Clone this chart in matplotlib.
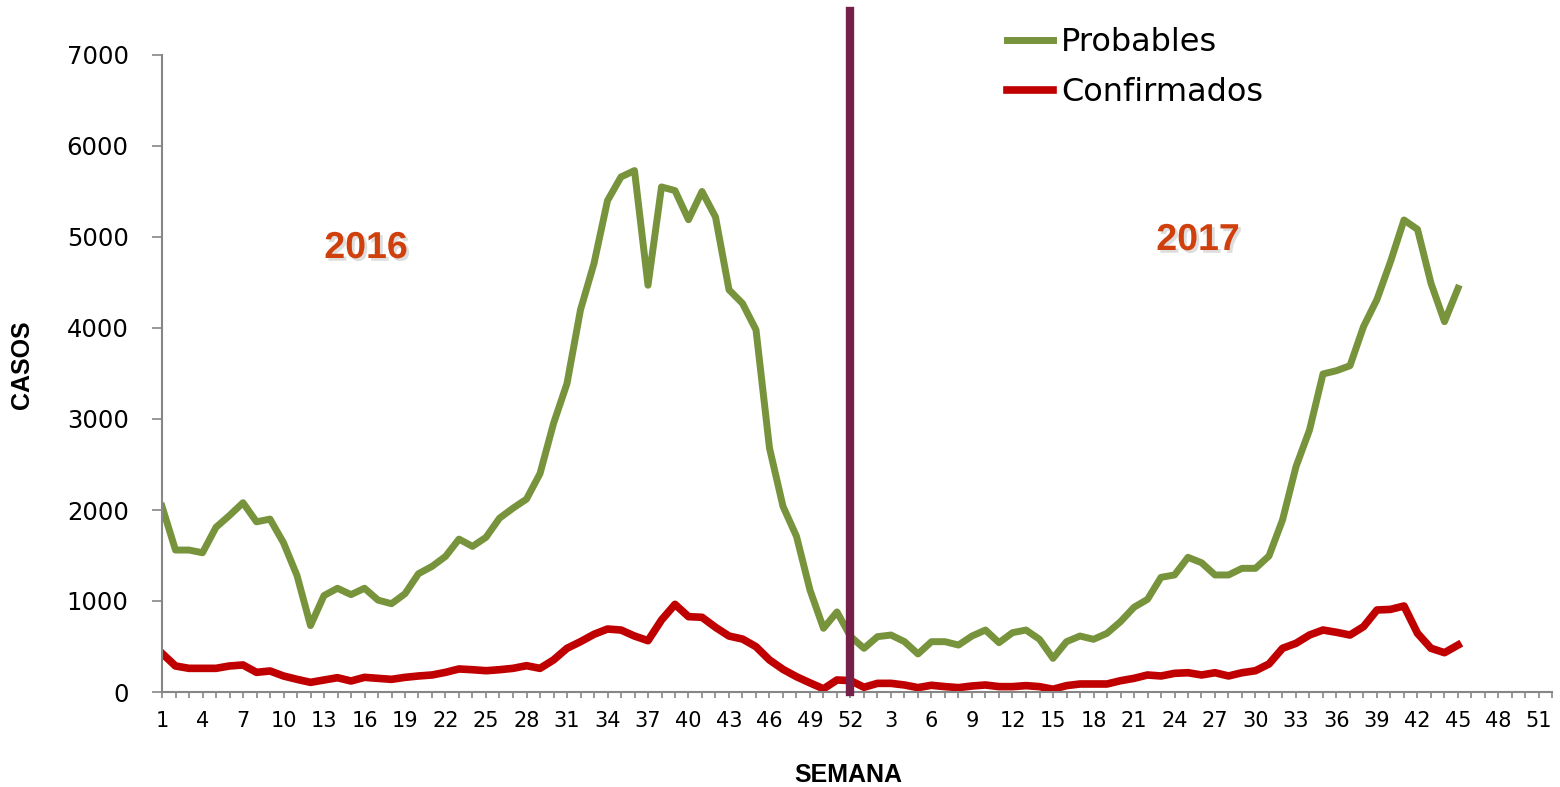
import matplotlib
matplotlib.use('Agg')
from matplotlib import pyplot as plt
import matplotlib.patheffects as pe

# semanas epidemiologicas
semanas_2016 = list(range(1, 53))
semanas_2017 = list(range(1, 53))

probables_2016 = [2040, 1560, 1560, 1530, 1810, 1940, 2080, 1870, 1900, 1640,
                  1280, 730, 1060, 1140, 1070, 1140, 1010, 970, 1080, 1300,
                  1380, 1490, 1680, 1600, 1700, 1910, 2020, 2120, 2400, 2950,
                  3390, 4200, 4710, 5400, 5660, 5730, 4470, 5550, 5510, 5190,
                  5500, 5220, 4420, 4270, 3980, 2680, 2040, 1710, 1120, 700,
                  880, 610]
probables_2017 = [480, 608, 626, 553, 418, 553, 553, 516, 615, 681,
                  542, 652, 681, 579, 370, 553, 615, 579, 645, 773,
                  931, 1018, 1260, 1286, 1480, 1421, 1286, 1286, 1359, 1359,
                  1495, 1890, 2476, 2879, 3495, 3531, 3586, 4015, 4315, 4729,
                  5187, 5084, 4491, 4070, 4436]

confirmados_2016 = [425, 286, 260, 260, 260, 286, 297, 216, 231, 176,
                    139, 106, 132, 157, 121, 161, 150, 139, 161, 176,
                    187, 216, 253, 245, 234, 245, 260, 289, 260, 352,
                    480, 553, 634, 692, 681, 615, 564, 791, 963, 828,
                    821, 711, 615, 582, 498, 352, 249, 168, 100, 35,
                    132, 125]
confirmados_2017 = [52, 95, 95, 77, 48, 74, 59, 48, 66, 77,
                    59, 59, 70, 59, 30, 70, 88, 88, 88, 124,
                    150, 187, 176, 205, 212, 187, 212, 176, 212, 234,
                    308, 480, 535, 626, 681, 656, 626, 718, 901, 908,
                    945, 645, 480, 432, 516]

etiquetas = [str(s) for s in semanas_2016 + semanas_2017]
probables = probables_2016 + probables_2017
confirmados = confirmados_2016 + confirmados_2017
x_todas = list(range(len(etiquetas)))
x_datos = list(range(len(probables)))
x_corte = len(semanas_2016) - 1  # semana 52 de 2016

verde = '#77933C'
rojo = '#C00000'
gris = '#868686'

fig = plt.figure(figsize=(15.6, 7.87), dpi=100)
ax = fig.add_axes([162 / 1560, 1 - 692 / 787, (1552.5 - 162) / 1560, (692 - 55) / 787])

ax.plot(x_datos, probables, color=verde, lw=5, label='Probables', solid_joinstyle='round')
ax.plot(x_datos, confirmados, color=rojo, lw=5.5, label='Confirmados', solid_joinstyle='round')

# linea de corte entre años
ax.plot([x_corte, x_corte], [0, 7480], color='#762049', lw=6, clip_on=False, zorder=5)

ax.set_xlim(0, len(etiquetas) - 1)
ax.set_ylim(0, 7000)
ax.set_yticks(range(0, 7001, 1000))
ax.set_xticks(x_todas)
ax.set_xticklabels([e if i % 3 == 0 else '' for i, e in enumerate(etiquetas)])

for s in ['top', 'right']:
    ax.spines[s].set_visible(False)
for s in ['left', 'bottom']:
    ax.spines[s].set_color(gris)
    ax.spines[s].set_linewidth(1.5)

ax.tick_params(axis='y', direction='out', length=7, width=1.2, color=gris,
               labelsize=17.5, pad=17)
ax.tick_params(axis='x', direction='out', length=4, width=1.2, color=gris,
               labelsize=15, pad=10)

fig.text(22 / 1560, 1 - 365 / 787, 'CASOS', rotation=90, ha='center', va='center',
         fontsize=18, fontweight='bold', family='Liberation Sans')
fig.text(848 / 1560, 1 - 775 / 787, 'SEMANA', ha='center', va='center',
         fontsize=18, fontweight='bold', family='Liberation Sans')

sombra = [pe.withSimplePatchShadow(offset=(2, -2), shadow_rgbFace='#aaaaaa', alpha=0.4)]
fig.text(366 / 1560, 1 - 248 / 787, '2016', ha='center', va='center', color='#D0400C',
         fontsize=27, fontweight='bold', family='Liberation Sans', path_effects=sombra)
fig.text(1198 / 1560, 1 - 240 / 787, '2017', ha='center', va='center', color='#D0400C',
         fontsize=27, fontweight='bold', family='Liberation Sans', path_effects=sombra)

ax.legend(loc='upper left', bbox_to_anchor=(1007 / 1560, 1 - 27 / 787),
          bbox_transform=fig.transFigure, frameon=False, fontsize=23,
          handlelength=1.45, handletextpad=0.25, labelspacing=0.6,
          borderpad=0, borderaxespad=0)

plt.savefig('out.png', dpi=100)
